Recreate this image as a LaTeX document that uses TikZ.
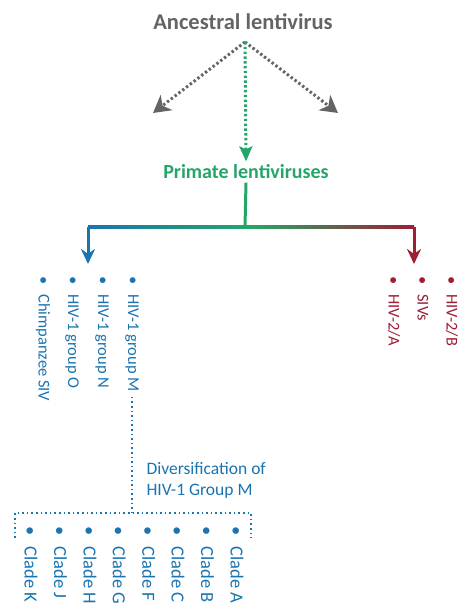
\documentclass[tikz,border=0pt]{standalone}
\usepackage{fontspec}
\setmainfont{Carlito}
\usetikzlibrary{arrows.meta}

\definecolor{antgray}{RGB}{100,100,100}
\definecolor{primgreen}{RGB}{36,166,104}
\definecolor{hivblue}{RGB}{26,116,176}
\definecolor{hivred}{RGB}{158,30,52}

\newcommand{\bul}{\textbullet\hspace{0.6em}}

\begin{document}
\begin{tikzpicture}[x=1pt,y=-1pt,
    dots/.style={line width=3pt,dash pattern=on 2.4pt off 2.4pt},
    tip/.style={-{Stealth[length=15pt,width=14pt]}},
    item/.style={rotate=-90,anchor=west,inner sep=0pt,font=\fontsize{16.5}{19}\selectfont},
    blueitem/.style={item,text=hivblue},
    reditem/.style={item,text=hivred},
    clade/.style={blueitem,font=\fontsize{18.5}{21}\selectfont}]
\useasboundingbox (0,0) rectangle (464,612);

    \node[text=antgray,font=\fontsize{22.5}{26}\selectfont\bfseries](anc)at(243,22){Ancestral lentivirus};
    \node[text=primgreen,font=\fontsize{20}{24}\selectfont\bfseries](prim)at(246,172){Primate lentiviruses};
    \coordinate(apex)at(245,42);
    \coordinate(lt)at(153,113);
    \coordinate(rt)at(338,113);
    \draw[antgray,dots,-{Stealth[length=17pt,width=19pt,inset=5pt]}](apex)--(lt);
    \draw[antgray,dots,-{Stealth[length=17pt,width=19pt,inset=5pt]}](apex)--(rt);
    \draw[primgreen,dots,-{Stealth[length=15pt,width=13pt,inset=3pt]}](apex)--(prim.north);

    % split into the two lineages
    \coordinate(fork)at(245,227);
    \coordinate(bl)at(88,227);
    \coordinate(rd)at(414,227);
    \draw[primgreen,line width=3pt](prim.south)--(fork);
    \shade[left color=hivblue,right color=hivred,middle color=primgreen](88,225.5)rectangle(414,228.5);
    \draw[hivblue,line width=3pt,tip](bl)--(88,264);
    \draw[hivred,line width=3pt,tip](rd)--(414,264);

    \node[blueitem](cpz)at(43,276){\bul Chimpanzee SIV};
    \node[blueitem](gO)at(72,276){\bul HIV-1 group O};
    \node[blueitem](gN)at(102,276){\bul HIV-1 group N};
    \node[blueitem](gM)at(132,276){\bul HIV-1 group M};

    \node[reditem](h2a)at(394,276){\bul HIV-2/A};
    \node[reditem](sivs)at(423,276){\bul SIVs};
    \node[reditem](h2b)at(452,276){\bul HIV-2/B};

    % group M clades
    \coordinate(brk)at(133,513);
    \coordinate(brkL)at(15,513);
    \coordinate(brkR)at(251,513);
    \draw[hivblue,line width=1.6pt,dash pattern=on 1.6pt off 3pt]([yshift=-5pt]gM.east)--(gM.east|-brk);
    \draw[hivblue,line width=1.6pt,dash pattern=on 1.6pt off 3pt]([yshift=-25pt]brkL)--(brkL)--(brkR)--([yshift=-25pt]brkR);
    \node[text=hivblue,align=left,anchor=west,font=\fontsize{17.5}{21}\selectfont](div)at(143,480){Diversification of\\HIV-1 Group M};

    \foreach \c [count=\i] in {K,J,H,G,F,C,B,A}
        \node[clade](cl\c)at({1.7+29.4*\i},526){\bul Clade \c};

\end{tikzpicture}
\end{document}
